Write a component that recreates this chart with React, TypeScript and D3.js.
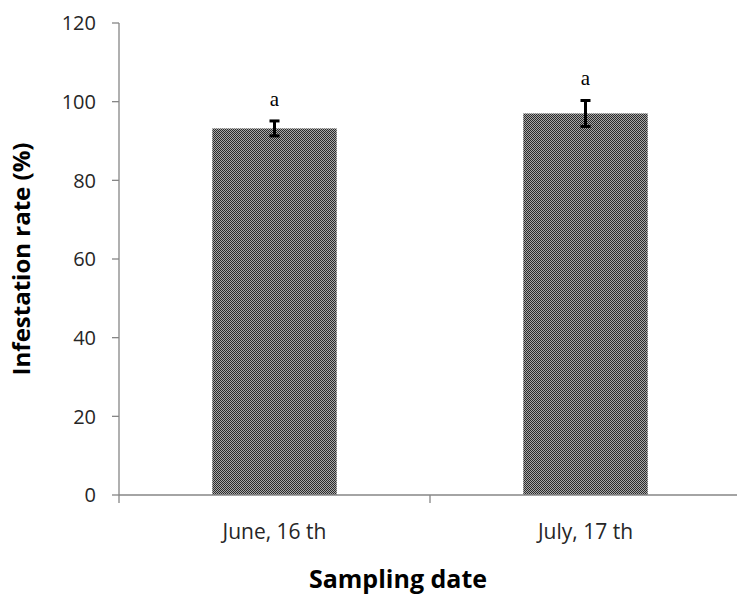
import * as d3 from "d3";

const categories = ["June, 16 th", "July, 17 th"];
const values = [93.2, 97.0];
const errors = [1.9, 3.3];
const letters = ["a", "a"];
const yTicks = [0, 20, 40, 60, 80, 100, 120];

const width = 737;
const height = 596;
const left = 119;
const right = 741;
const top = 23;
const bottom = 495;

const App = () => {
  const x = d3.scaleBand().domain(categories).range([left, right]).paddingInner(0).paddingOuter(0);
  const y = d3.scaleLinear().domain([0, 120]).range([bottom, top]);
  const barW = x.bandwidth() * 0.4;
  const font = "'Open Sans', sans-serif";

  return (
    <svg width={width} height={height} style={{ position: "absolute", left: 0, top: 0 }}>
      <defs>
        <pattern id="chk" width="2" height="2" patternUnits="userSpaceOnUse">
          <rect width="2" height="2" fill="#a8a8a8" />
          <rect width="1" height="1" fill="#2a2a2a" />
          <rect x="1" y="1" width="1" height="1" fill="#2a2a2a" />
        </pattern>
      </defs>
      <rect width={width} height={height} fill="#fff" />

      {/* bars */}
      {categories.map((c, i) => (
        <rect
          key={c}
          x={x(c)! + x.bandwidth() / 2 - barW / 2}
          y={y(values[i])}
          width={barW}
          height={bottom - y(values[i])}
          fill="url(#chk)"
        />
      ))}

      {/* y axis */}
      <line x1={left} x2={left} y1={top} y2={bottom} stroke="#868686" strokeWidth={1.3} />
      {yTicks.map((t) => (
        <g key={t}>
          <line x1={left - 7} x2={left} y1={y(t)} y2={y(t)} stroke="#868686" strokeWidth={1.3} />
          <text x={left - 23} y={y(t)} dy="0.36em" textAnchor="end" fontFamily={font} fontSize={20} fill="#262626">
            {t}
          </text>
        </g>
      ))}

      {/* x axis */}
      <line x1={left} x2={right} y1={bottom} y2={bottom} stroke="#868686" strokeWidth={1.3} />
      {[left, x(categories[1])!, right].map((p, i) => (
        <line key={i} x1={p} x2={p} y1={bottom} y2={bottom + 8} stroke="#868686" strokeWidth={1.3} />
      ))}
      {categories.map((c) => (
        <text key={c} x={x(c)! + x.bandwidth() / 2} y={539} textAnchor="middle" fontFamily={font} fontSize={21} fill="#262626">
          {c}
        </text>
      ))}

      {/* error bars and letters */}
      {categories.map((c, i) => {
        const cx = x(c)! + x.bandwidth() / 2;
        const hi = y(values[i] + errors[i]);
        const lo = y(values[i] - errors[i]);
        return (
          <g key={c}>
            <line x1={cx} x2={cx} y1={hi} y2={lo} stroke="#000" strokeWidth={3} />
            <line x1={cx - 5} x2={cx + 5} y1={hi} y2={hi} stroke="#000" strokeWidth={3} />
            <line x1={cx - 5} x2={cx + 5} y1={lo} y2={lo} stroke="#000" strokeWidth={3} />
            <text x={cx} y={hi - 15} textAnchor="middle" fontFamily="'Liberation Serif', serif" fontSize={21} fill="#000">
              {letters[i]}
            </text>
          </g>
        );
      })}

      {/* axis titles */}
      <text
        transform={`translate(30,${(top + bottom) / 2}) rotate(-90)`}
        textAnchor="middle"
        fontFamily={font}
        fontWeight="bold"
        fontSize={24}
        fill="#000"
      >
        Infestation rate (%)
      </text>
      <text x={398} y={588} textAnchor="middle" fontFamily={font} fontWeight="bold" fontSize={25} fill="#000">
        Sampling date
      </text>
    </svg>
  );
};

export default App;
